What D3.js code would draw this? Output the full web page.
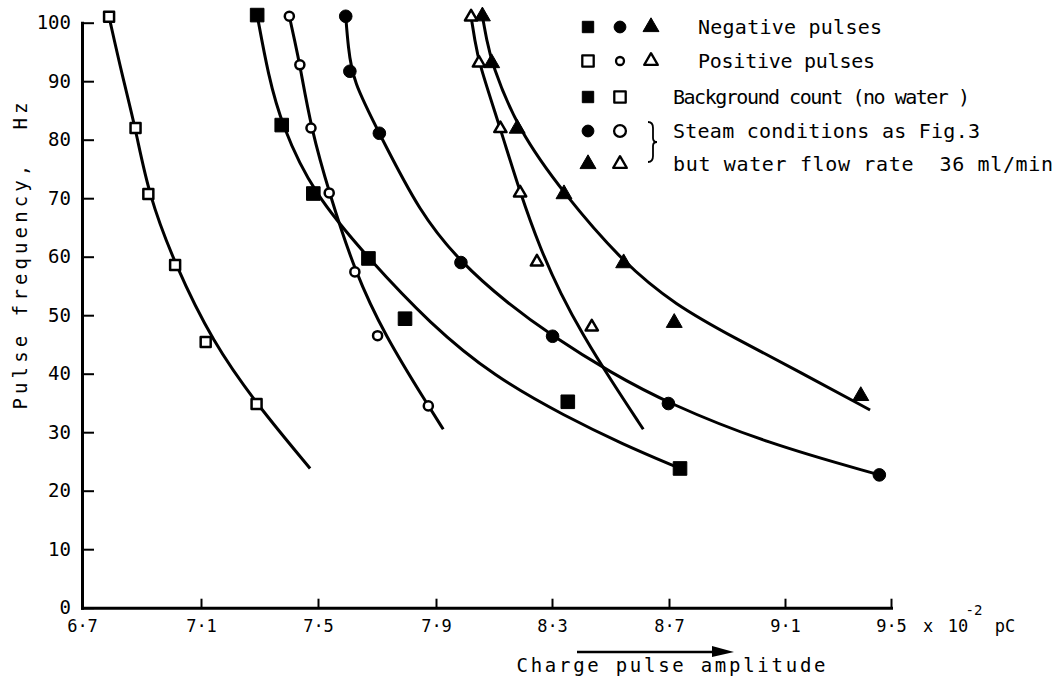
<!DOCTYPE html>
<html>
<head>
<meta charset="utf-8">
<script src="https://cdn.jsdelivr.net/npm/d3@7"></script>
<style>
  body { margin: 0; background: #fff; }
  text { font-family: "DejaVu Sans Mono", monospace; fill: #000; }
</style>
</head>
<body>
<svg id="chart" width="1056" height="680"></svg>
<script>
// axis ticks
const xTicks = [6.7, 7.1, 7.5, 7.9, 8.3, 8.7, 9.1, 9.5]
const yTicks = [0, 10, 20, 30, 40, 50, 60, 70, 80, 90, 100]

// measured points: [charge (x10^-2 pC), frequency (Hz)]
const bgNeg = [[7.292, 101.3], [7.376, 82.5], [7.484, 70.8], [7.671, 59.7], [7.795, 49.4], [8.354, 35.2], [8.738, 23.8]]
const bgPos = [[6.791, 101.0], [6.880, 82.0], [6.923, 70.7], [7.013, 58.6], [7.116, 45.4], [7.290, 34.8]]
const steamNeg = [[7.594, 101.1], [7.608, 91.7], [7.708, 81.1], [7.986, 59.0], [8.302, 46.4], [8.698, 34.9], [9.456, 22.7]]
const steamPos = [[7.402, 101.1], [7.438, 92.8], [7.476, 82.0], [7.538, 70.9], [7.625, 57.4], [7.702, 46.5], [7.874, 34.5]]
const waterNeg = [[8.060, 101.1], [8.092, 93.1], [8.180, 81.9], [8.341, 70.7], [8.545, 58.9], [8.718, 48.7], [9.386, 36.2]]
const waterPos = [[8.021, 101.0], [8.048, 93.1], [8.122, 81.9], [8.190, 70.9], [8.248, 59.1], [8.436, 48.0]]

// hand drawn fitted curves
const bgNegFit = [[7.292, 101.3], [7.330, 91.0], [7.376, 82.5], [7.484, 70.8], [7.671, 59.7], [7.880, 48.5], [8.100, 39.5], [8.350, 32.6], [8.540, 28.0], [8.738, 23.8]]
const bgPosFit = [[6.791, 101.0], [6.835, 91.0], [6.880, 82.0], [6.923, 70.7], [7.013, 58.6], [7.140, 45.4], [7.290, 34.8], [7.473, 23.8]]
const steamNegFit = [[7.594, 101.1], [7.602, 96.0], [7.618, 90.0], [7.708, 81.1], [7.846, 67.4], [7.986, 59.0], [8.140, 52.3], [8.302, 46.4], [8.500, 40.2], [8.698, 34.9], [9.037, 28.1], [9.456, 22.7]]
const steamPosFit = [[7.402, 101.1], [7.420, 97.0], [7.438, 92.8], [7.476, 82.0], [7.538, 70.9], [7.625, 57.4], [7.727, 46.5], [7.874, 34.5], [7.925, 30.5]]
const waterNegFit = [[8.060, 101.1], [8.075, 97.0], [8.092, 93.1], [8.180, 81.9], [8.341, 70.7], [8.545, 58.9], [8.720, 51.8], [8.930, 46.0], [9.160, 40.2], [9.421, 33.8]]
const waterPosFit = [[8.021, 101.0], [8.034, 97.0], [8.048, 93.1], [8.122, 81.9], [8.190, 70.9], [8.260, 61.3], [8.330, 53.6], [8.407, 46.5], [8.500, 39.0], [8.612, 30.5]]

// legend
const legendRows = [
    { marks: [['square', true], ['circle', true], ['triangle', true]], label: 'Negative pulses' },
    { marks: [['square', false], ['circle', false], ['triangle', false]], label: 'Positive pulses' },
    { marks: [['square', true], ['square', false]], label: 'Background count (no water )' },
    { marks: [['circle', true], ['circle', false]], label: 'Steam conditions as Fig.3' },
    { marks: [['triangle', true], ['triangle', false]], label: 'but water flow rate\u00a0 36 ml/min' }
]

const svg = d3.select('#chart')

// the original axis is hand ruled, last interval is a bit shorter
const x = d3.scaleLinear()
    .domain(xTicks)
    .range([82, 201, 318, 436, 552, 669, 785, 891])
const y = d3.scaleLinear()
    .domain([0, 100])
    .range([607.7, 22.7])

const fmt = d => d3.format('.1f')(d).replace('.', '\u00b7')

// x axis
const gx = svg.append('g')
    .attr('transform', `translate(0,${y(0)})`)
    .call(d3.axisBottom(x).tickValues(xTicks).tickFormat(fmt).tickSize(-9).tickSizeOuter(0).tickPadding(12))
gx.select('.domain').attr('stroke-width', 3).attr('stroke-linecap', 'square')
gx.selectAll('.tick line').attr('stroke-width', 2)
gx.selectAll('.tick text').attr('font-size', 17).attr('font-family', '"DejaVu Sans Mono", monospace')

// y axis
const gy = svg.append('g')
    .attr('transform', `translate(${x(6.7)},0)`)
    .call(d3.axisLeft(y).tickValues(yTicks).tickSize(-12).tickSizeOuter(0).tickPadding(11))
gy.select('.domain').attr('stroke-width', 3).attr('stroke-linecap', 'square')
gy.selectAll('.tick line').attr('stroke-width', 2)
gy.selectAll('.tick text').attr('font-size', 19).attr('font-family', '"DejaVu Sans Mono", monospace')

// unit after 9.5
const unit = svg.append('g').attr('font-size', 17)
unit.append('text').attr('x', 928).attr('y', 632).attr('text-anchor', 'middle').text('x')
unit.append('text').attr('x', 958).attr('y', 632).attr('text-anchor', 'middle').text('10')
unit.append('text').attr('x', 974).attr('y', 615).attr('text-anchor', 'middle').attr('font-size', 14).text('-2')
unit.append('text').attr('x', 1005).attr('y', 632).attr('text-anchor', 'middle').text('pC')

// axis titles
svg.append('text')
    .attr('x', 671).attr('y', 672)
    .attr('text-anchor', 'middle')
    .attr('font-size', 19)
    .attr('textLength', 309).attr('lengthAdjust', 'spacing')
    .text('Charge pulse amplitude')

// arrow over the x title
svg.append('line')
    .attr('x1', 577).attr('y1', 652).attr('x2', 718).attr('y2', 652)
    .attr('stroke', '#000').attr('stroke-width', 2.5)
svg.append('path')
    .attr('d', 'M712,646 L734,652 L712,657 Z')
    .attr('fill', '#000')

svg.append('text')
    .attr('transform', 'translate(27,256) rotate(-90)')
    .attr('text-anchor', 'middle')
    .attr('font-size', 19)
    .attr('textLength', 307).attr('lengthAdjust', 'spacing')
    .text('Pulse frequency,\u00a0 Hz')

// fitted curves
const line = d3.line()
    .x(d => x(d[0]))
    .y(d => y(d[1]))
    .curve(d3.curveBasis)

const fits = [bgNegFit, bgPosFit, steamNegFit, steamPosFit, waterNegFit, waterPosFit]
svg.append('g')
    .selectAll('path')
    .data(fits)
    .enter()
    .append('path')
    .attr('d', line)
    .attr('fill', 'none')
    .attr('stroke', '#000')
    .attr('stroke-width', 3)

// marker shapes
function shapePath(shape, filled) {
    if (shape === 'square') return d3.symbol(d3.symbolSquare, filled ? 185 : 100)()
    if (shape === 'circle') return d3.symbol(d3.symbolCircle, filled ? 125 : 65)()
    return d3.symbol(d3.symbolTriangle, filled ? 110 : 65)()
}

function drawMarks(data, shape, filled) {
    svg.append('g')
        .selectAll('path')
        .data(data)
        .enter()
        .append('path')
        .attr('transform', d => `translate(${x(d[0])},${y(d[1])})`)
        .attr('d', shapePath(shape, filled))
        .attr('fill', filled ? '#000' : '#fff')
        .attr('stroke', '#000')
        .attr('stroke-width', filled ? 1 : 2.5)
        .attr('stroke-linejoin', 'round')
}

drawMarks(bgPos, 'square', false)
drawMarks(bgNeg, 'square', true)
drawMarks(steamPos, 'circle', false)
drawMarks(steamNeg, 'circle', true)
drawMarks(waterPos, 'triangle', false)
drawMarks(waterNeg, 'triangle', true)

// legend
const rowY = [27, 61, 97, 131, 164]
const colX = [588, 620, 651]
const textX = [698, 698, 673, 673, 673]
const textLen = [184, 177, 297, 307, 380]

const lg = svg.append('g')
legendRows.forEach((row, i) => {
    row.marks.forEach((m, j) => {
        let size = m[0] === 'square' ? 130 : 110
        if (i === 1 && m[0] === 'circle') size = 50
        if (!m[1] && m[0] === 'triangle') size = 80
        lg.append('path')
            .attr('transform', `translate(${colX[j]},${rowY[i]})`)
            .attr('d', d3.symbol(m[0] === 'square' ? d3.symbolSquare : m[0] === 'circle' ? d3.symbolCircle : d3.symbolTriangle, size)())
            .attr('fill', m[1] ? '#000' : '#fff')
            .attr('stroke', '#000')
            .attr('stroke-width', m[1] ? 1 : 2.3)
            .attr('stroke-linejoin', 'round')
    })
    lg.append('text')
        .attr('x', textX[i])
        .attr('y', rowY[i])
        .attr('dy', '0.36em')
        .attr('font-size', 20)
        .attr('textLength', textLen[i]).attr('lengthAdjust', 'spacing')
        .text(row.label)
})

// brace joining the last two rows
lg.append('path')
    .attr('d', 'M648,122 Q653,122 653,128 L653,138 Q653,142 657,142 Q653,142 653,146 L653,156 Q653,162 648,162')
    .attr('fill', 'none')
    .attr('stroke', '#000')
    .attr('stroke-width', 1.8)
</script>
</body>
</html>
